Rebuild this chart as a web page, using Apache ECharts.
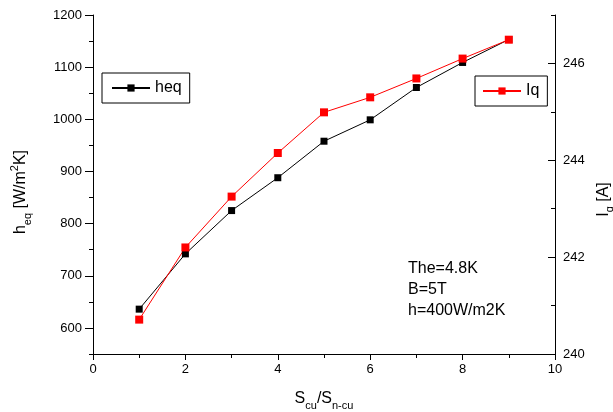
<!DOCTYPE html>
<html>
<head>
<meta charset="utf-8">
<script src="https://cdn.jsdelivr.net/npm/echarts@6/dist/echarts.min.js"></script>
<style>html,body{margin:0;padding:0;background:#fff}#c{width:613px;height:412px}</style>
</head>
<body>
<div id="c"></div>
<script>
const xValues = [1, 2, 3, 4, 5, 6, 7, 8, 9];
const heqValues = [636, 742, 825, 888, 958, 999, 1061, 1109, 1153];
const iqValues = [240.71, 242.20, 243.25, 244.15, 244.99, 245.30, 245.69, 246.10, 246.49];
const leftTicks = [600, 700, 800, 900, 1000, 1100, 1200];
const rightTicks = [240, 242, 244, 246];
const annotationLines = ['The=4.8K', 'B=5T', 'h=400W/m2K'];

const font = 'Arial, "Liberation Sans", sans-serif';
const chart = echarts.init(document.getElementById('c'), null, {renderer: 'canvas'});
const axisLineStyle = {color: '#000', width: 1};
const tickLabel = {color: '#000', fontSize: 13, fontFamily: font, formatter: v => String(v)};

chart.setOption({
  animation: false,
  backgroundColor: '#fff',
  grid: {left: 93, right: 58, top: 15, bottom: 58, containLabel: false, outerBoundsMode: 'none'},
  legend: [
    {
      data: ['heq'], left: 102, top: 73,
      borderColor: '#000', borderWidth: 1, padding: [7, 8, 7, 9],
      itemWidth: 38, itemHeight: 9,
      textStyle: {color: '#000', fontSize: 16, fontFamily: font}
    },
    {
      data: ['Iq'], left: 475, top: 76,
      borderColor: '#000', borderWidth: 1, padding: [7, 8, 7, 7],
      itemWidth: 38, itemHeight: 9,
      textStyle: {color: '#000', fontSize: 16, fontFamily: font}
    }
  ],
  xAxis: {
    type: 'value', min: 0, max: 10, interval: 2,
    name: '{n|S}{s|cu}{n|/S}{s|n-cu}', nameLocation: 'middle', nameGap: 33,
    nameTextStyle: {
      rich: {
        n: {fontSize: 16, fontFamily: font, color: '#000', lineHeight: 24, verticalAlign: 'middle'},
        s: {fontSize: 11, fontFamily: font, color: '#000', lineHeight: 24, verticalAlign: 'bottom'}
      }
    },
    axisLine: {lineStyle: axisLineStyle},
    axisTick: {show: true, inside: false, length: 6, lineStyle: axisLineStyle},
    minorTick: {show: true, splitNumber: 2, length: 4, lineStyle: axisLineStyle},
    axisLabel: Object.assign({margin: 9}, tickLabel),
    splitLine: {show: false}
  },
  yAxis: [
    {
      type: 'value', position: 'left', min: 550, max: 1200,
      name: '{n|h}{s|eq}{n| [W/m}{p|2}{n|K]}', nameLocation: 'middle', nameGap: 60, nameRotate: 90,
      nameTextStyle: {
        padding: [0, 15, 0, 0],
        rich: {
          n: {fontSize: 16, fontFamily: font, color: '#000', lineHeight: 24, verticalAlign: 'middle'},
          s: {fontSize: 11, fontFamily: font, color: '#000', lineHeight: 24, verticalAlign: 'bottom'},
          p: {fontSize: 11, fontFamily: font, color: '#000', lineHeight: 24, verticalAlign: 'top'}
        }
      },
      axisLine: {show: true, lineStyle: axisLineStyle},
      axisTick: {show: true, inside: false, length: 8, customValues: leftTicks, lineStyle: axisLineStyle},
      axisLabel: Object.assign({margin: 11, customValues: leftTicks}, tickLabel),
      splitLine: {show: false}
    },
    {
      type: 'value', position: 'left', min: 550, max: 1200, interval: 50,
      axisLine: {show: false},
      axisTick: {show: true, inside: false, length: 4, lineStyle: axisLineStyle},
      axisLabel: {show: false},
      splitLine: {show: false}
    },
    {
      type: 'value', position: 'right', min: 240, max: 247,
      name: '{n|I}{s|q}{n| [A]}', nameLocation: 'middle', nameGap: 32, nameRotate: 90,
      nameTextStyle: {
        padding: [0, 30, 0, 0],
        rich: {
          n: {fontSize: 16, fontFamily: font, color: '#000', lineHeight: 24, verticalAlign: 'middle'},
          s: {fontSize: 11, fontFamily: font, color: '#000', lineHeight: 24, verticalAlign: 'bottom'}
        }
      },
      axisLine: {show: true, lineStyle: axisLineStyle},
      axisTick: {show: true, inside: true, length: 7, customValues: rightTicks, lineStyle: axisLineStyle},
      axisLabel: Object.assign({margin: 8, customValues: rightTicks}, tickLabel),
      splitLine: {show: false}
    },
    {
      type: 'value', position: 'right', min: 240, max: 247, interval: 1,
      axisLine: {show: false},
      axisTick: {show: true, inside: true, length: 4, lineStyle: axisLineStyle},
      axisLabel: {show: false},
      splitLine: {show: false}
    }
  ],
  series: [
    {
      name: 'heq', type: 'line', yAxisIndex: 0,
      data: xValues.map((x, i) => [x, heqValues[i]]),
      symbol: 'rect', symbolSize: 7,
      itemStyle: {color: '#000'},
      lineStyle: {color: '#000', width: 1}
    },
    {
      name: 'Iq', type: 'line', yAxisIndex: 2,
      data: xValues.map((x, i) => [x, iqValues[i]]),
      symbol: 'rect', symbolSize: 8,
      itemStyle: {color: '#ff0000'},
      lineStyle: {color: '#ff0000', width: 1}
    }
  ],
  graphic: annotationLines.map((t, i) => ({
    type: 'text', left: 408, top: 261 + i * 21,
    style: {text: t, fill: '#000', fontSize: 16, fontFamily: font}
  }))
});
</script>
</body>
</html>
